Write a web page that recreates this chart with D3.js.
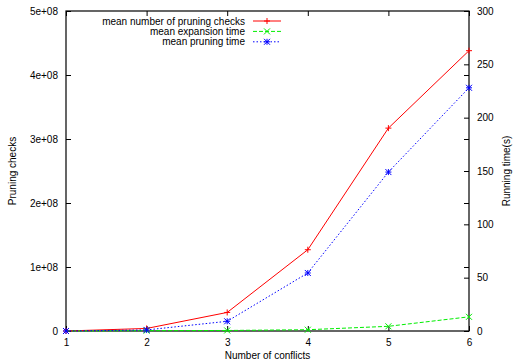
<!DOCTYPE html>
<html>
<head>
<meta charset="utf-8">
<script src="https://cdn.jsdelivr.net/npm/d3@7"></script>
<style>
  body { margin: 0; background: #fff; }
  svg { display: block; font-family: "Liberation Sans", Arial, sans-serif; }
</style>
</head>
<body>
<div class="chart"></div>
<script>
//Data
var conflicts = [1, 2, 3, 4, 5, 6];
var pruningChecks = [0, 4e6, 2.9e7, 1.27e8, 3.17e8, 4.38e8];
var expansionTime = [0, 0.3, 0.5, 1.2, 4.4, 13.3];
var pruningTime = [0, 1, 9.1, 54.4, 149, 228];
var leftTicks = [0, 1e8, 2e8, 3e8, 4e8, 5e8];
var rightTicks = [0, 50, 100, 150, 200, 250, 300];

var w = 513;
var h = 363;
var margin = {top: 11, right: 44, bottom: 32, left: 66};

var svg = d3.select(".chart")
            .append("svg")
            .attr("width", w)
            .attr("height", h);

var x = d3.scaleLinear()
          .domain([1, 6])
          .range([margin.left, w - margin.right]);

var yLeft = d3.scaleLinear()
              .domain([0, 5e8])
              .range([h - margin.bottom, margin.top]);

var yRight = d3.scaleLinear()
               .domain([0, 300])
               .range([h - margin.bottom, margin.top]);

var tick = 5;

//Axes: ticks point inward like gnuplot
var xAxis = d3.axisBottom(x).tickValues(conflicts).tickSize(-tick).tickPadding(8).tickFormat(d3.format("d"));
var xAxisTop = d3.axisTop(x).tickValues(conflicts).tickSize(-tick).tickFormat("");
var yAxis = d3.axisLeft(yLeft).tickValues(leftTicks).tickSize(-tick).tickPadding(8)
              .tickFormat(function(d){ return d == 0 ? "0" : (d / 1e8) + "e+08"; });
var yAxisMirror = d3.axisRight(yLeft).tickValues(leftTicks).tickSize(-tick).tickFormat("");
var yAxis2 = d3.axisRight(yRight).tickValues(rightTicks).tickSize(-tick).tickPadding(8);

function styleAxis(g){
  g.select(".domain").remove();
  g.selectAll("line").attr("stroke", "#000").attr("stroke-width", 1);
  g.selectAll("text").attr("fill", "#000").style("font-size", "10px");
}

svg.append("g").attr("transform", "translate(0," + (h - margin.bottom) + ")").call(xAxis).call(styleAxis);
svg.append("g").attr("transform", "translate(0," + margin.top + ")").call(xAxisTop).call(styleAxis);
svg.append("g").attr("transform", "translate(" + margin.left + ",0)").call(yAxis).call(styleAxis);
svg.append("g").attr("transform", "translate(" + (w - margin.right) + ",0)").call(yAxisMirror).call(styleAxis);
svg.append("g").attr("transform", "translate(" + (w - margin.right) + ",0)").call(yAxis2).call(styleAxis);

//Frame
svg.append("rect")
   .attr("x", margin.left)
   .attr("y", margin.top)
   .attr("width", w - margin.right - margin.left)
   .attr("height", h - margin.bottom - margin.top)
   .attr("fill", "none")
   .attr("stroke", "#000")
   .attr("stroke-width", 1.2);

//Axis titles
svg.append("text")
   .attr("x", (margin.left + w - margin.right) / 2)
   .attr("y", h - 4)
   .attr("text-anchor", "middle")
   .style("font-size", "10px")
   .text("Number of conflicts");

svg.append("text")
   .attr("transform", "translate(16," + ((margin.top + h - margin.bottom) / 2) + ") rotate(-90)")
   .attr("text-anchor", "middle")
   .style("font-size", "10px")
   .text("Pruning checks");

//Sits right at the edge, as in the original
svg.append("text")
   .attr("transform", "translate(510," + ((margin.top + h - margin.bottom) / 2) + ") rotate(-90)")
   .attr("text-anchor", "middle")
   .style("font-size", "10px")
   .text("Running time(s)");

//Markers
function plus(g, cx, cy, c){
  g.append("path").attr("d", "M" + (cx - 3) + "," + cy + "h6M" + cx + "," + (cy - 3) + "v6")
   .attr("stroke", c).attr("fill", "none");
}
function cross(g, cx, cy, c){
  g.append("path").attr("d", "M" + (cx - 3) + "," + (cy - 3) + "l6,6M" + (cx - 3) + "," + (cy + 3) + "l6,-6")
   .attr("stroke", c).attr("fill", "none");
}
function star(g, cx, cy, c){
  plus(g, cx, cy, c);
  cross(g, cx, cy, c);
}

var series = [
  {name: "mean number of pruning checks", values: pruningChecks, scale: yLeft, color: "#ff0000", dash: null, marker: plus},
  {name: "mean expansion time", values: expansionTime, scale: yRight, color: "#00ee00", dash: "4,2", marker: cross},
  {name: "mean pruning time", values: pruningTime, scale: yRight, color: "#0000ff", dash: "1.5,2", marker: star}
];

series.forEach(function(s){
  var line = d3.line()
               .x(function(d, i){ return x(conflicts[i]); })
               .y(function(d){ return s.scale(d); });
  svg.append("path")
     .datum(s.values)
     .attr("d", line)
     .attr("fill", "none")
     .attr("stroke", s.color)
     .attr("stroke-width", 1)
     .attr("stroke-dasharray", s.dash);
  var g = svg.append("g");
  s.values.forEach(function(d, i){
    s.marker(g, x(conflicts[i]), s.scale(d), s.color);
  });
});

//Legend
series.forEach(function(s, i){
  var ly = 21 + i * 10.4;
  svg.append("text")
     .attr("x", 245)
     .attr("y", ly)
     .attr("dy", "0.35em")
     .attr("text-anchor", "end")
     .style("font-size", "10px")
     .text(s.name);
  svg.append("line")
     .attr("x1", 253).attr("x2", 281)
     .attr("y1", ly).attr("y2", ly)
     .attr("stroke", s.color)
     .attr("stroke-width", 1)
     .attr("stroke-dasharray", s.dash);
  s.marker(svg, 267, ly, s.color);
});
</script>
</body>
</html>
